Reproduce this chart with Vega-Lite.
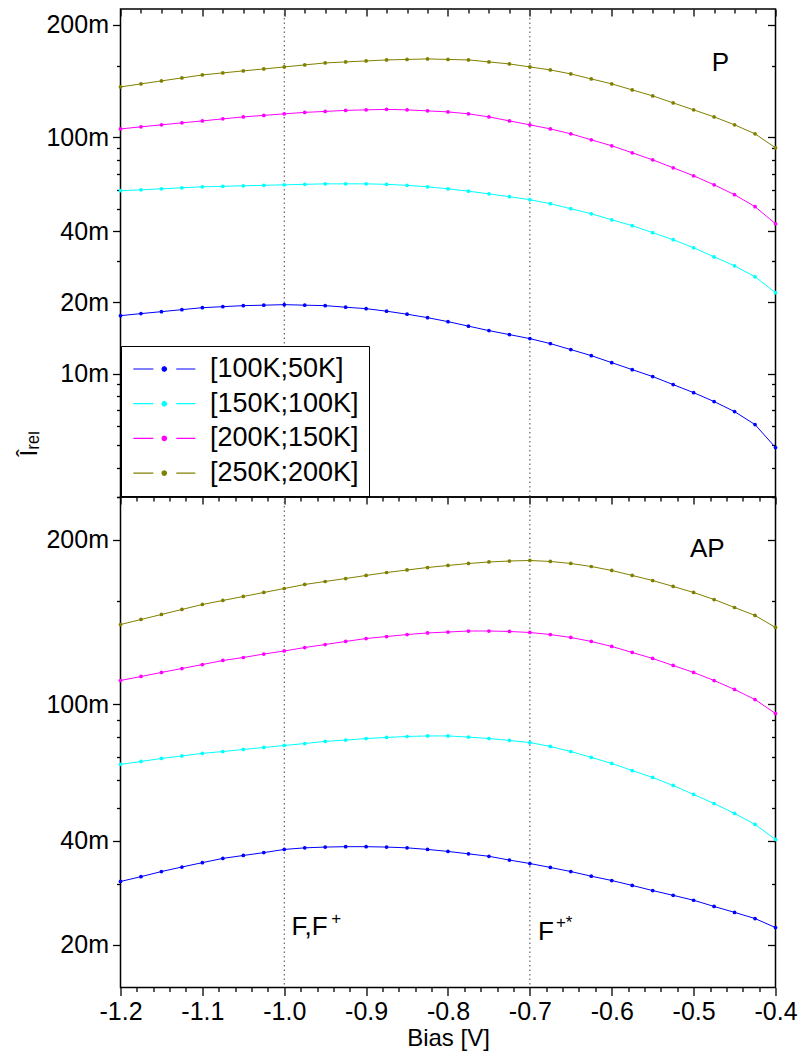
{
  "$schema": "https://vega.github.io/schema/vega-lite/v6.json",
  "background": "white",
  "padding": {"left": 16.5, "top": 7, "right": 3, "bottom": 5},
  "config": {
    "font": "Liberation Sans",
    "concat": {"spacing": 0},
    "view": {"stroke": "black", "strokeWidth": 1.5},
    "axis": {"grid": false, "domain": false, "tickColor": "black", "tickWidth": 1.3, "labelColor": "black", "titleColor": "black", "labelFont": "Liberation Sans", "titleFont": "Liberation Sans", "titleFontWeight": "normal", "labelOverlap": false, "labelFlush": false}
  },
  "datasets": {
    "marks": [{"x": -1.0}, {"x": -0.7}],
    "ann": [
      {"p": "P", "t": "P", "x": -0.4778, "y": 0.1908},
      {"p": "AP", "t": "AP", "x": -0.5044, "y": 0.2668},
      {"p": "AP", "t": "F,F", "x": -0.9911, "y": 0.02125},
      {"p": "AP", "t": "F", "x": -0.6902, "y": 0.02056}
    ],
    "sup": [
      {"p": "AP", "t": "+", "x": -0.9425, "y": 0.0238},
      {"p": "AP", "t": "+*", "x": -0.6682, "y": 0.02303}
    ],
    "curves": [
      {"p":"P","s":"[100K;50K]","v":-1.2,"i":0.01759},{"p":"P","s":"[100K;50K]","v":-1.175,"i":0.01794},{"p":"P","s":"[100K;50K]","v":-1.15,"i":0.01829},{"p":"P","s":"[100K;50K]","v":-1.125,"i":0.01865},{"p":"P","s":"[100K;50K]","v":-1.1,"i":0.01901},{"p":"P","s":"[100K;50K]","v":-1.075,"i":0.0192},{"p":"P","s":"[100K;50K]","v":-1.05,"i":0.01939},{"p":"P","s":"[100K;50K]","v":-1.025,"i":0.01948},{"p":"P","s":"[100K;50K]","v":-1,"i":0.01958},{"p":"P","s":"[100K;50K]","v":-0.975,"i":0.01948},{"p":"P","s":"[100K;50K]","v":-0.95,"i":0.01939},{"p":"P","s":"[100K;50K]","v":-0.925,"i":0.0191},{"p":"P","s":"[100K;50K]","v":-0.9,"i":0.01883},{"p":"P","s":"[100K;50K]","v":-0.875,"i":0.01837},{"p":"P","s":"[100K;50K]","v":-0.85,"i":0.01784},{"p":"P","s":"[100K;50K]","v":-0.825,"i":0.01725},{"p":"P","s":"[100K;50K]","v":-0.8,"i":0.01659},{"p":"P","s":"[100K;50K]","v":-0.775,"i":0.01588},{"p":"P","s":"[100K;50K]","v":-0.75,"i":0.0152},{"p":"P","s":"[100K;50K]","v":-0.725,"i":0.01462},{"p":"P","s":"[100K;50K]","v":-0.7,"i":0.01406},{"p":"P","s":"[100K;50K]","v":-0.675,"i":0.01339},{"p":"P","s":"[100K;50K]","v":-0.65,"i":0.01263},{"p":"P","s":"[100K;50K]","v":-0.625,"i":0.01191},{"p":"P","s":"[100K;50K]","v":-0.6,"i":0.01112},{"p":"P","s":"[100K;50K]","v":-0.575,"i":0.01039},{"p":"P","s":"[100K;50K]","v":-0.55,"i":0.00971},{"p":"P","s":"[100K;50K]","v":-0.525,"i":0.00898},{"p":"P","s":"[100K;50K]","v":-0.5,"i":0.0083},{"p":"P","s":"[100K;50K]","v":-0.475,"i":0.00761},{"p":"P","s":"[100K;50K]","v":-0.45,"i":0.0069},{"p":"P","s":"[100K;50K]","v":-0.425,"i":0.00608},{"p":"P","s":"[100K;50K]","v":-0.4,"i":0.00486},
      {"p":"P","s":"[150K;100K]","v":-1.2,"i":0.0595},{"p":"P","s":"[150K;100K]","v":-1.175,"i":0.06},{"p":"P","s":"[150K;100K]","v":-1.15,"i":0.0606},{"p":"P","s":"[150K;100K]","v":-1.125,"i":0.0612},{"p":"P","s":"[150K;100K]","v":-1.1,"i":0.0618},{"p":"P","s":"[150K;100K]","v":-1.075,"i":0.0621},{"p":"P","s":"[150K;100K]","v":-1.05,"i":0.0624},{"p":"P","s":"[150K;100K]","v":-1.025,"i":0.0627},{"p":"P","s":"[150K;100K]","v":-1,"i":0.063},{"p":"P","s":"[150K;100K]","v":-0.975,"i":0.0633},{"p":"P","s":"[150K;100K]","v":-0.95,"i":0.0636},{"p":"P","s":"[150K;100K]","v":-0.925,"i":0.0636},{"p":"P","s":"[150K;100K]","v":-0.9,"i":0.0636},{"p":"P","s":"[150K;100K]","v":-0.875,"i":0.0633},{"p":"P","s":"[150K;100K]","v":-0.85,"i":0.0627},{"p":"P","s":"[150K;100K]","v":-0.825,"i":0.0618},{"p":"P","s":"[150K;100K]","v":-0.8,"i":0.0606},{"p":"P","s":"[150K;100K]","v":-0.775,"i":0.0592},{"p":"P","s":"[150K;100K]","v":-0.75,"i":0.0577},{"p":"P","s":"[150K;100K]","v":-0.725,"i":0.0561},{"p":"P","s":"[150K;100K]","v":-0.7,"i":0.0545},{"p":"P","s":"[150K;100K]","v":-0.675,"i":0.0524},{"p":"P","s":"[150K;100K]","v":-0.65,"i":0.0499},{"p":"P","s":"[150K;100K]","v":-0.625,"i":0.0475},{"p":"P","s":"[150K;100K]","v":-0.6,"i":0.0448},{"p":"P","s":"[150K;100K]","v":-0.575,"i":0.0423},{"p":"P","s":"[150K;100K]","v":-0.55,"i":0.0395},{"p":"P","s":"[150K;100K]","v":-0.525,"i":0.0369},{"p":"P","s":"[150K;100K]","v":-0.5,"i":0.0341},{"p":"P","s":"[150K;100K]","v":-0.475,"i":0.0312},{"p":"P","s":"[150K;100K]","v":-0.45,"i":0.0286},{"p":"P","s":"[150K;100K]","v":-0.425,"i":0.0257},{"p":"P","s":"[150K;100K]","v":-0.4,"i":0.022},
      {"p":"P","s":"[200K;150K]","v":-1.2,"i":0.1087},{"p":"P","s":"[200K;150K]","v":-1.175,"i":0.1109},{"p":"P","s":"[200K;150K]","v":-1.15,"i":0.1131},{"p":"P","s":"[200K;150K]","v":-1.125,"i":0.1153},{"p":"P","s":"[200K;150K]","v":-1.1,"i":0.1175},{"p":"P","s":"[200K;150K]","v":-1.075,"i":0.1199},{"p":"P","s":"[200K;150K]","v":-1.05,"i":0.1222},{"p":"P","s":"[200K;150K]","v":-1.025,"i":0.124},{"p":"P","s":"[200K;150K]","v":-1,"i":0.1259},{"p":"P","s":"[200K;150K]","v":-0.975,"i":0.1277},{"p":"P","s":"[200K;150K]","v":-0.95,"i":0.1289},{"p":"P","s":"[200K;150K]","v":-0.925,"i":0.1302},{"p":"P","s":"[200K;150K]","v":-0.9,"i":0.1309},{"p":"P","s":"[200K;150K]","v":-0.875,"i":0.1315},{"p":"P","s":"[200K;150K]","v":-0.85,"i":0.1309},{"p":"P","s":"[200K;150K]","v":-0.825,"i":0.1296},{"p":"P","s":"[200K;150K]","v":-0.8,"i":0.1283},{"p":"P","s":"[200K;150K]","v":-0.775,"i":0.1259},{"p":"P","s":"[200K;150K]","v":-0.75,"i":0.1222},{"p":"P","s":"[200K;150K]","v":-0.725,"i":0.1175},{"p":"P","s":"[200K;150K]","v":-0.7,"i":0.1131},{"p":"P","s":"[200K;150K]","v":-0.675,"i":0.1087},{"p":"P","s":"[200K;150K]","v":-0.65,"i":0.1036},{"p":"P","s":"[200K;150K]","v":-0.625,"i":0.0977},{"p":"P","s":"[200K;150K]","v":-0.6,"i":0.0922},{"p":"P","s":"[200K;150K]","v":-0.575,"i":0.0861},{"p":"P","s":"[200K;150K]","v":-0.55,"i":0.0804},{"p":"P","s":"[200K;150K]","v":-0.525,"i":0.0744},{"p":"P","s":"[200K;150K]","v":-0.5,"i":0.0688},{"p":"P","s":"[200K;150K]","v":-0.475,"i":0.063},{"p":"P","s":"[200K;150K]","v":-0.45,"i":0.0572},{"p":"P","s":"[200K;150K]","v":-0.425,"i":0.0509},{"p":"P","s":"[200K;150K]","v":-0.4,"i":0.0431},
      {"p":"P","s":"[250K;200K]","v":-1.2,"i":0.1637},{"p":"P","s":"[250K;200K]","v":-1.175,"i":0.1686},{"p":"P","s":"[250K;200K]","v":-1.15,"i":0.1736},{"p":"P","s":"[250K;200K]","v":-1.125,"i":0.1787},{"p":"P","s":"[250K;200K]","v":-1.1,"i":0.184},{"p":"P","s":"[250K;200K]","v":-1.075,"i":0.1877},{"p":"P","s":"[250K;200K]","v":-1.05,"i":0.1914},{"p":"P","s":"[250K;200K]","v":-1.025,"i":0.1951},{"p":"P","s":"[250K;200K]","v":-1,"i":0.1989},{"p":"P","s":"[250K;200K]","v":-0.975,"i":0.2029},{"p":"P","s":"[250K;200K]","v":-0.95,"i":0.2068},{"p":"P","s":"[250K;200K]","v":-0.925,"i":0.2089},{"p":"P","s":"[250K;200K]","v":-0.9,"i":0.2109},{"p":"P","s":"[250K;200K]","v":-0.875,"i":0.213},{"p":"P","s":"[250K;200K]","v":-0.85,"i":0.214},{"p":"P","s":"[250K;200K]","v":-0.825,"i":0.2151},{"p":"P","s":"[250K;200K]","v":-0.8,"i":0.214},{"p":"P","s":"[250K;200K]","v":-0.775,"i":0.213},{"p":"P","s":"[250K;200K]","v":-0.75,"i":0.2089},{"p":"P","s":"[250K;200K]","v":-0.725,"i":0.2048},{"p":"P","s":"[250K;200K]","v":-0.7,"i":0.1989},{"p":"P","s":"[250K;200K]","v":-0.675,"i":0.1932},{"p":"P","s":"[250K;200K]","v":-0.65,"i":0.1858},{"p":"P","s":"[250K;200K]","v":-0.625,"i":0.177},{"p":"P","s":"[250K;200K]","v":-0.6,"i":0.1686},{"p":"P","s":"[250K;200K]","v":-0.575,"i":0.159},{"p":"P","s":"[250K;200K]","v":-0.55,"i":0.15},{"p":"P","s":"[250K;200K]","v":-0.525,"i":0.1401},{"p":"P","s":"[250K;200K]","v":-0.5,"i":0.1309},{"p":"P","s":"[250K;200K]","v":-0.475,"i":0.1222},{"p":"P","s":"[250K;200K]","v":-0.45,"i":0.1131},{"p":"P","s":"[250K;200K]","v":-0.425,"i":0.1036},{"p":"P","s":"[250K;200K]","v":-0.4,"i":0.0904},
      {"p":"AP","s":"[100K;50K]","v":-1.2,"i":0.0305},{"p":"AP","s":"[100K;50K]","v":-1.175,"i":0.0315},{"p":"AP","s":"[100K;50K]","v":-1.15,"i":0.0326},{"p":"AP","s":"[100K;50K]","v":-1.125,"i":0.0336},{"p":"AP","s":"[100K;50K]","v":-1.1,"i":0.0346},{"p":"AP","s":"[100K;50K]","v":-1.075,"i":0.0356},{"p":"AP","s":"[100K;50K]","v":-1.05,"i":0.0363},{"p":"AP","s":"[100K;50K]","v":-1.025,"i":0.037},{"p":"AP","s":"[100K;50K]","v":-1,"i":0.0378},{"p":"AP","s":"[100K;50K]","v":-0.975,"i":0.0382},{"p":"AP","s":"[100K;50K]","v":-0.95,"i":0.0384},{"p":"AP","s":"[100K;50K]","v":-0.925,"i":0.0385},{"p":"AP","s":"[100K;50K]","v":-0.9,"i":0.0385},{"p":"AP","s":"[100K;50K]","v":-0.875,"i":0.0384},{"p":"AP","s":"[100K;50K]","v":-0.85,"i":0.0382},{"p":"AP","s":"[100K;50K]","v":-0.825,"i":0.0378},{"p":"AP","s":"[100K;50K]","v":-0.8,"i":0.0373},{"p":"AP","s":"[100K;50K]","v":-0.775,"i":0.0367},{"p":"AP","s":"[100K;50K]","v":-0.75,"i":0.0361},{"p":"AP","s":"[100K;50K]","v":-0.725,"i":0.0352},{"p":"AP","s":"[100K;50K]","v":-0.7,"i":0.0344},{"p":"AP","s":"[100K;50K]","v":-0.675,"i":0.0335},{"p":"AP","s":"[100K;50K]","v":-0.65,"i":0.0326},{"p":"AP","s":"[100K;50K]","v":-0.625,"i":0.0316},{"p":"AP","s":"[100K;50K]","v":-0.6,"i":0.0307},{"p":"AP","s":"[100K;50K]","v":-0.575,"i":0.0297},{"p":"AP","s":"[100K;50K]","v":-0.55,"i":0.0287},{"p":"AP","s":"[100K;50K]","v":-0.525,"i":0.0278},{"p":"AP","s":"[100K;50K]","v":-0.5,"i":0.0269},{"p":"AP","s":"[100K;50K]","v":-0.475,"i":0.0258},{"p":"AP","s":"[100K;50K]","v":-0.45,"i":0.0248},{"p":"AP","s":"[100K;50K]","v":-0.425,"i":0.0238},{"p":"AP","s":"[100K;50K]","v":-0.4,"i":0.0224},
      {"p":"AP","s":"[150K;100K]","v":-1.2,"i":0.0668},{"p":"AP","s":"[150K;100K]","v":-1.175,"i":0.0681},{"p":"AP","s":"[150K;100K]","v":-1.15,"i":0.0695},{"p":"AP","s":"[150K;100K]","v":-1.125,"i":0.0707},{"p":"AP","s":"[150K;100K]","v":-1.1,"i":0.0719},{"p":"AP","s":"[150K;100K]","v":-1.075,"i":0.0728},{"p":"AP","s":"[150K;100K]","v":-1.05,"i":0.0738},{"p":"AP","s":"[150K;100K]","v":-1.025,"i":0.0748},{"p":"AP","s":"[150K;100K]","v":-1,"i":0.0758},{"p":"AP","s":"[150K;100K]","v":-0.975,"i":0.0768},{"p":"AP","s":"[150K;100K]","v":-0.95,"i":0.0779},{"p":"AP","s":"[150K;100K]","v":-0.925,"i":0.0786},{"p":"AP","s":"[150K;100K]","v":-0.9,"i":0.0794},{"p":"AP","s":"[150K;100K]","v":-0.875,"i":0.08},{"p":"AP","s":"[150K;100K]","v":-0.85,"i":0.0805},{"p":"AP","s":"[150K;100K]","v":-0.825,"i":0.0808},{"p":"AP","s":"[150K;100K]","v":-0.8,"i":0.0808},{"p":"AP","s":"[150K;100K]","v":-0.775,"i":0.0802},{"p":"AP","s":"[150K;100K]","v":-0.75,"i":0.0794},{"p":"AP","s":"[150K;100K]","v":-0.725,"i":0.0784},{"p":"AP","s":"[150K;100K]","v":-0.7,"i":0.0773},{"p":"AP","s":"[150K;100K]","v":-0.675,"i":0.0753},{"p":"AP","s":"[150K;100K]","v":-0.65,"i":0.0728},{"p":"AP","s":"[150K;100K]","v":-0.625,"i":0.07},{"p":"AP","s":"[150K;100K]","v":-0.6,"i":0.0672},{"p":"AP","s":"[150K;100K]","v":-0.575,"i":0.0641},{"p":"AP","s":"[150K;100K]","v":-0.55,"i":0.0612},{"p":"AP","s":"[150K;100K]","v":-0.525,"i":0.058},{"p":"AP","s":"[150K;100K]","v":-0.5,"i":0.0546},{"p":"AP","s":"[150K;100K]","v":-0.475,"i":0.0514},{"p":"AP","s":"[150K;100K]","v":-0.45,"i":0.0481},{"p":"AP","s":"[150K;100K]","v":-0.425,"i":0.0447},{"p":"AP","s":"[150K;100K]","v":-0.4,"i":0.0404},
      {"p":"AP","s":"[200K;150K]","v":-1.2,"i":0.1171},{"p":"AP","s":"[200K;150K]","v":-1.175,"i":0.1203},{"p":"AP","s":"[200K;150K]","v":-1.15,"i":0.1236},{"p":"AP","s":"[200K;150K]","v":-1.125,"i":0.1269},{"p":"AP","s":"[200K;150K]","v":-1.1,"i":0.1303},{"p":"AP","s":"[200K;150K]","v":-1.075,"i":0.1339},{"p":"AP","s":"[200K;150K]","v":-1.05,"i":0.1366},{"p":"AP","s":"[200K;150K]","v":-1.025,"i":0.1398},{"p":"AP","s":"[200K;150K]","v":-1,"i":0.1427},{"p":"AP","s":"[200K;150K]","v":-0.975,"i":0.146},{"p":"AP","s":"[200K;150K]","v":-0.95,"i":0.149},{"p":"AP","s":"[200K;150K]","v":-0.925,"i":0.1521},{"p":"AP","s":"[200K;150K]","v":-0.9,"i":0.1551},{"p":"AP","s":"[200K;150K]","v":-0.875,"i":0.1572},{"p":"AP","s":"[200K;150K]","v":-0.85,"i":0.1593},{"p":"AP","s":"[200K;150K]","v":-0.825,"i":0.161},{"p":"AP","s":"[200K;150K]","v":-0.8,"i":0.162},{"p":"AP","s":"[200K;150K]","v":-0.775,"i":0.1631},{"p":"AP","s":"[200K;150K]","v":-0.75,"i":0.1631},{"p":"AP","s":"[200K;150K]","v":-0.725,"i":0.1626},{"p":"AP","s":"[200K;150K]","v":-0.7,"i":0.1615},{"p":"AP","s":"[200K;150K]","v":-0.675,"i":0.1593},{"p":"AP","s":"[200K;150K]","v":-0.65,"i":0.1562},{"p":"AP","s":"[200K;150K]","v":-0.625,"i":0.1521},{"p":"AP","s":"[200K;150K]","v":-0.6,"i":0.1471},{"p":"AP","s":"[200K;150K]","v":-0.575,"i":0.1413},{"p":"AP","s":"[200K;150K]","v":-0.55,"i":0.1357},{"p":"AP","s":"[200K;150K]","v":-0.525,"i":0.1295},{"p":"AP","s":"[200K;150K]","v":-0.5,"i":0.1236},{"p":"AP","s":"[200K;150K]","v":-0.475,"i":0.1171},{"p":"AP","s":"[200K;150K]","v":-0.45,"i":0.1103},{"p":"AP","s":"[200K;150K]","v":-0.425,"i":0.1031},{"p":"AP","s":"[200K;150K]","v":-0.4,"i":0.0939},
      {"p":"AP","s":"[250K;200K]","v":-1.2,"i":0.1703},{"p":"AP","s":"[250K;200K]","v":-1.175,"i":0.1762},{"p":"AP","s":"[250K;200K]","v":-1.15,"i":0.1822},{"p":"AP","s":"[250K;200K]","v":-1.125,"i":0.1884},{"p":"AP","s":"[250K;200K]","v":-1.1,"i":0.1948},{"p":"AP","s":"[250K;200K]","v":-1.075,"i":0.2001},{"p":"AP","s":"[250K;200K]","v":-1.05,"i":0.2055},{"p":"AP","s":"[250K;200K]","v":-1.025,"i":0.2111},{"p":"AP","s":"[250K;200K]","v":-1,"i":0.2168},{"p":"AP","s":"[250K;200K]","v":-0.975,"i":0.2227},{"p":"AP","s":"[250K;200K]","v":-0.95,"i":0.2272},{"p":"AP","s":"[250K;200K]","v":-0.925,"i":0.2318},{"p":"AP","s":"[250K;200K]","v":-0.9,"i":0.2366},{"p":"AP","s":"[250K;200K]","v":-0.875,"i":0.2413},{"p":"AP","s":"[250K;200K]","v":-0.85,"i":0.2454},{"p":"AP","s":"[250K;200K]","v":-0.825,"i":0.2495},{"p":"AP","s":"[250K;200K]","v":-0.8,"i":0.2529},{"p":"AP","s":"[250K;200K]","v":-0.775,"i":0.2563},{"p":"AP","s":"[250K;200K]","v":-0.75,"i":0.2589},{"p":"AP","s":"[250K;200K]","v":-0.725,"i":0.2606},{"p":"AP","s":"[250K;200K]","v":-0.7,"i":0.2615},{"p":"AP","s":"[250K;200K]","v":-0.675,"i":0.2598},{"p":"AP","s":"[250K;200K]","v":-0.65,"i":0.2563},{"p":"AP","s":"[250K;200K]","v":-0.625,"i":0.2512},{"p":"AP","s":"[250K;200K]","v":-0.6,"i":0.2446},{"p":"AP","s":"[250K;200K]","v":-0.575,"i":0.2366},{"p":"AP","s":"[250K;200K]","v":-0.55,"i":0.2287},{"p":"AP","s":"[250K;200K]","v":-0.525,"i":0.2198},{"p":"AP","s":"[250K;200K]","v":-0.5,"i":0.2111},{"p":"AP","s":"[250K;200K]","v":-0.475,"i":0.2014},{"p":"AP","s":"[250K;200K]","v":-0.45,"i":0.1909},{"p":"AP","s":"[250K;200K]","v":-0.425,"i":0.181},{"p":"AP","s":"[250K;200K]","v":-0.4,"i":0.167}
    ]
  },
  "spacing": 0,
  "bounds": "flush",
  "resolve": {"scale": {"color": "independent"}, "legend": {"color": "independent"}},
  "vconcat": [
    {
      "width": 655,
      "height": 488,
      "layer": [
        {
          "data": {"name": "marks"},
          "mark": {"type": "rule", "strokeDash": [1.5, 3], "color": "#444", "strokeWidth": 1},
          "encoding": {
            "x": {"field": "x", "type": "quantitative", "scale": {"domain": [-1.2, -0.4], "nice": false, "zero": false},
              "axis": {"orient": "top", "title": null, "labels": false,
                "values": [-1.2,-1.175,-1.15,-1.125,-1.1,-1.075,-1.05,-1.025,-1,-0.975,-0.95,-0.925,-0.9,-0.875,-0.85,-0.825,-0.8,-0.775,-0.75,-0.725,-0.7,-0.675,-0.65,-0.625,-0.6,-0.575,-0.55,-0.525,-0.5,-0.475,-0.45,-0.425,-0.4],
                "tickSize": {"condition": {"test": "abs(datum.value*10 - round(datum.value*10)) < 0.001", "value": -7}, "value": -4}}}
          }
        },
        {
          "data": {"name": "curves"},
          "transform": [{"filter": "datum.p === 'P'"}],
          "mark": {"type": "line", "strokeWidth": 1},
          "encoding": {
            "x": {"field": "v", "type": "quantitative", "scale": {"domain": [-1.2, -0.4], "nice": false, "zero": false}, "axis": null},
            "y": {"field": "i", "type": "quantitative", "scale": {"type": "log", "domain": [0.003, 0.35], "nice": false},
              "axis": {"orient": "left",
                "values": [0.003,0.004,0.005,0.006,0.007,0.008,0.009,0.01,0.02,0.03,0.04,0.05,0.06,0.07,0.08,0.09,0.1,0.2,0.3],
                "labelExpr": "datum.value==0.3?'200m':datum.value==0.1?'100m':datum.value==0.04?'40m':datum.value==0.02?'20m':datum.value==0.01?'10m':''",
                "tickSize": {"condition": {"test": "datum.value==0.3||datum.value==0.1||datum.value==0.04||datum.value==0.02||datum.value==0.01", "value": 8}, "value": 4},
                "labelFontSize": {"condition": {"test": "datum.value==0.3||datum.value==0.1||datum.value==0.04||datum.value==0.02||datum.value==0.01", "value": 25}, "value": 0},
                "labelPadding": 4,
                "title": "Îᵣₑₗ", "titleFontSize": 24, "titleX": -84, "titleY": 447, "titleAlign": "left", "titleAngle": -90, "titleBaseline": "alphabetic"}},
            "color": {"field": "s", "type": "nominal",
              "scale": {"domain": ["[100K;50K]", "[150K;100K]", "[200K;150K]", "[250K;200K]"], "range": ["#0000ff", "#00ffff", "#ff00ff", "#808000"]},
              "legend": {"orient": "none", "legendX": 0.5, "legendY": 337, "title": null,
                "symbolType": "M-0.89,0L0.78,0M2.69,0L4.275,0M1.88,0L1.824,0.134L1.69,0.19L1.556,0.134L1.5,0L1.556,-0.134L1.69,-0.19L1.824,-0.134Z",
                "symbolSize": 576, "symbolStrokeWidth": 1.2,
                "labelFont": "Liberation Sans", "labelFontSize": 27, "labelColor": "black", "labelLimit": 400,
                "labelOffset": 52.5, "padding": 9.5, "rowPadding": 6.7,
                "strokeColor": "black", "fillColor": "white",
                "encode": {"symbols": {"update": {
                  "fill": {"signal": "datum.value==='[100K;50K]'?'#0000ff':datum.value==='[150K;100K]'?'#00ffff':datum.value==='[200K;150K]'?'#ff00ff':'#808000'"},
                  "stroke": {"signal": "datum.value==='[100K;50K]'?'#0000ff':datum.value==='[150K;100K]'?'#00ffff':datum.value==='[200K;150K]'?'#ff00ff':'#808000'"}}}}}}
          }
        },
        {
          "data": {"name": "curves"},
          "transform": [{"filter": "datum.p === 'P'"}],
          "mark": {"type": "circle", "size": 14, "opacity": 1},
          "encoding": {
            "x": {"field": "v", "type": "quantitative", "scale": {"domain": [-1.2, -0.4], "nice": false, "zero": false}, "axis": null},
            "y": {"field": "i", "type": "quantitative", "scale": {"type": "log", "domain": [0.003, 0.35], "nice": false}, "axis": null},
            "color": {"field": "s", "type": "nominal",
              "scale": {"domain": ["[100K;50K]", "[150K;100K]", "[200K;150K]", "[250K;200K]"], "range": ["#0000ff", "#00ffff", "#ff00ff", "#808000"]},
              "legend": null}
          }
        },
        {
          "data": {"name": "ann"},
          "transform": [{"filter": "datum.p === 'P'"}],
          "mark": {"type": "text", "fontSize": 26, "align": "left", "baseline": "alphabetic", "color": "black", "font": "Liberation Sans"},
          "encoding": {
            "x": {"field": "x", "type": "quantitative", "scale": {"domain": [-1.2, -0.4], "nice": false, "zero": false}, "axis": null},
            "y": {"field": "y", "type": "quantitative", "scale": {"type": "log", "domain": [0.003, 0.35], "nice": false},
              "axis": {"orient": "right", "title": null, "labels": false,
                "values": [0.003,0.004,0.005,0.006,0.007,0.008,0.009,0.01,0.02,0.03,0.04,0.05,0.06,0.07,0.08,0.09,0.1,0.2,0.3],
                "tickSize": {"condition": {"test": "datum.value==0.3||datum.value==0.1||datum.value==0.04||datum.value==0.02||datum.value==0.01", "value": -8}, "value": -4}}},
            "text": {"field": "t"}
          }
        }
      ],
      "resolve": {"axis": {"x": "independent", "y": "independent"}}
    },
    {
      "width": 655,
      "height": 490.5,
      "layer": [
        {
          "data": {"name": "marks"},
          "mark": {"type": "rule", "strokeDash": [1.5, 3], "color": "#444", "strokeWidth": 1},
          "encoding": {
            "x": {"field": "x", "type": "quantitative", "scale": {"domain": [-1.2, -0.4], "nice": false, "zero": false},
              "axis": {"orient": "top", "title": null, "labels": false,
                "values": [-1.2,-1.18,-1.16,-1.14,-1.12,-1.1,-1.08,-1.06,-1.04,-1.02,-1,-0.98,-0.96,-0.94,-0.92,-0.9,-0.88,-0.86,-0.84,-0.82,-0.8,-0.78,-0.76,-0.74,-0.72,-0.7,-0.68,-0.66,-0.64,-0.62,-0.6,-0.58,-0.56,-0.54,-0.52,-0.5,-0.48,-0.46,-0.44,-0.42,-0.4],
                "tickSize": {"condition": {"test": "abs(datum.value*10 - round(datum.value*10)) < 0.001", "value": -7}, "value": -4}}}
          }
        },
        {
          "data": {"name": "curves"},
          "transform": [{"filter": "datum.p === 'AP'"}],
          "mark": {"type": "line", "strokeWidth": 1},
          "encoding": {
            "x": {"field": "v", "type": "quantitative", "scale": {"domain": [-1.2, -0.4], "nice": false, "zero": false},
              "axis": {"orient": "bottom",
                "values": [-1.2,-1.18,-1.16,-1.14,-1.12,-1.1,-1.08,-1.06,-1.04,-1.02,-1,-0.98,-0.96,-0.94,-0.92,-0.9,-0.88,-0.86,-0.84,-0.82,-0.8,-0.78,-0.76,-0.74,-0.72,-0.7,-0.68,-0.66,-0.64,-0.62,-0.6,-0.58,-0.56,-0.54,-0.52,-0.5,-0.48,-0.46,-0.44,-0.42,-0.4],
                "labelExpr": "abs(datum.value*10 - round(datum.value*10)) < 0.001 ? replace(format(datum.value, '.1f'), '−', '-') : ''",
                "tickSize": {"condition": {"test": "abs(datum.value*10 - round(datum.value*10)) < 0.001", "value": 8}, "value": 4},
                "labelPadding": 4, "labelFontSize": 25,
                "title": "Bias [V]", "titleFontSize": 24, "titlePadding": 2}},
            "y": {"field": "i", "type": "quantitative", "scale": {"type": "log", "domain": [0.015, 0.4], "nice": false},
              "axis": {"orient": "left",
                "values": [0.02,0.03,0.04,0.05,0.06,0.07,0.08,0.09,0.1,0.2,0.3,0.4],
                "labelExpr": "datum.value==0.3?'200m':datum.value==0.1?'100m':datum.value==0.04?'40m':datum.value==0.02?'20m':''",
                "tickSize": {"condition": {"test": "datum.value==0.3||datum.value==0.1||datum.value==0.04||datum.value==0.02", "value": 8}, "value": 4},
                "labelFontSize": {"condition": {"test": "datum.value==0.3||datum.value==0.1||datum.value==0.04||datum.value==0.02", "value": 25}, "value": 0},
                "labelPadding": 4, "title": null}},
            "color": {"field": "s", "type": "nominal",
              "scale": {"domain": ["[100K;50K]", "[150K;100K]", "[200K;150K]", "[250K;200K]"], "range": ["#0000ff", "#00ffff", "#ff00ff", "#808000"]},
              "legend": null}
          }
        },
        {
          "data": {"name": "curves"},
          "transform": [{"filter": "datum.p === 'AP'"}],
          "mark": {"type": "circle", "size": 14, "opacity": 1},
          "encoding": {
            "x": {"field": "v", "type": "quantitative", "scale": {"domain": [-1.2, -0.4], "nice": false, "zero": false}, "axis": null},
            "y": {"field": "i", "type": "quantitative", "scale": {"type": "log", "domain": [0.015, 0.4], "nice": false}, "axis": null},
            "color": {"field": "s", "type": "nominal",
              "scale": {"domain": ["[100K;50K]", "[150K;100K]", "[200K;150K]", "[250K;200K]"], "range": ["#0000ff", "#00ffff", "#ff00ff", "#808000"]},
              "legend": null}
          }
        },
        {
          "data": {"name": "ann"},
          "transform": [{"filter": "datum.p === 'AP'"}],
          "mark": {"type": "text", "fontSize": 26, "align": "left", "baseline": "alphabetic", "color": "black", "font": "Liberation Sans"},
          "encoding": {
            "x": {"field": "x", "type": "quantitative", "scale": {"domain": [-1.2, -0.4], "nice": false, "zero": false}, "axis": null},
            "y": {"field": "y", "type": "quantitative", "scale": {"type": "log", "domain": [0.015, 0.4], "nice": false},
              "axis": {"orient": "right", "title": null, "labels": false,
                "values": [0.02,0.03,0.04,0.05,0.06,0.07,0.08,0.09,0.1,0.2,0.3,0.4],
                "tickSize": {"condition": {"test": "datum.value==0.3||datum.value==0.1||datum.value==0.04||datum.value==0.02", "value": -8}, "value": -4}}},
            "text": {"field": "t"}
          }
        },
        {
          "data": {"name": "sup"},
          "mark": {"type": "text", "fontSize": 17, "align": "left", "baseline": "middle", "color": "black", "font": "Liberation Sans"},
          "encoding": {
            "x": {"field": "x", "type": "quantitative", "scale": {"domain": [-1.2, -0.4], "nice": false, "zero": false}, "axis": null},
            "y": {"field": "y", "type": "quantitative", "scale": {"type": "log", "domain": [0.015, 0.4], "nice": false}, "axis": null},
            "text": {"field": "t"}
          }
        }
      ],
      "resolve": {"axis": {"x": "independent", "y": "independent"}}
    }
  ]
}
